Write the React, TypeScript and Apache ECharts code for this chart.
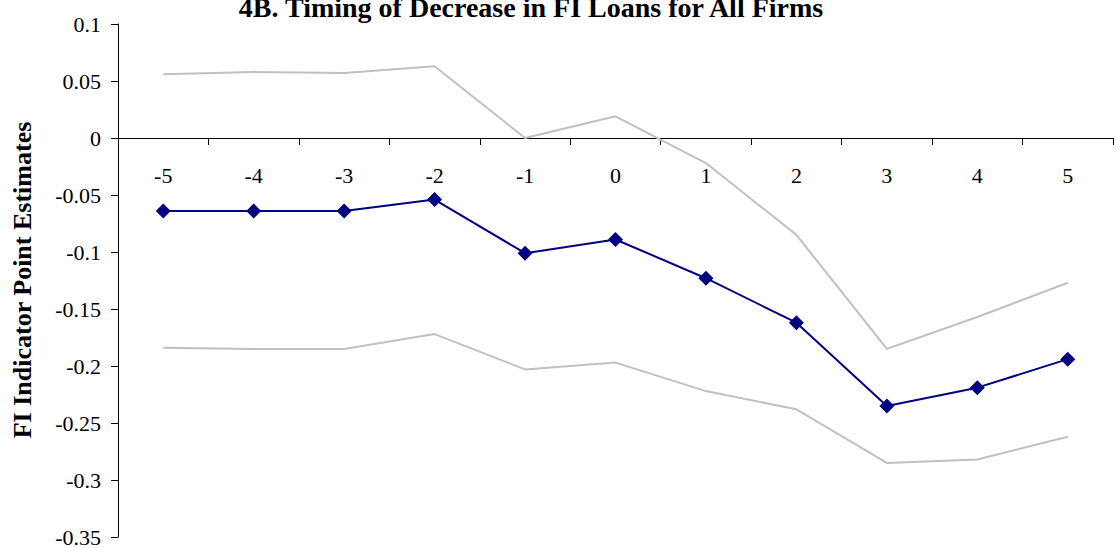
import React, { useEffect, useRef } from "react";
import * as echarts from "echarts";

const periods = ["-5", "-4", "-3", "-2", "-1", "0", "1", "2", "3", "4", "5"];
const pointEstimates = [-0.064, -0.064, -0.064, -0.054, -0.101, -0.089, -0.123, -0.162, -0.235, -0.219, -0.194];
const upperBound = [0.056, 0.058, 0.057, 0.063, 0.0, 0.019, -0.022, -0.085, -0.185, -0.157, -0.127];
const lowerBound = [-0.184, -0.185, -0.185, -0.172, -0.203, -0.197, -0.222, -0.238, -0.285, -0.282, -0.262];

const titleText = "4B. Timing of Decrease in FI Loans for All Firms";
const yAxisTitle = "FI Indicator Point Estimates";

const FAMILY = "'Liberation Serif', 'DejaVu Serif', serif";

// the value axis runs from -0.35 to 0.1 across the plot height (24..537);
// the category axis sits on the zero line, lifted up from the grid bottom
const Y_MIN = -0.35;
const Y_MAX = 0.1;
const PLOT_TOP = 24;
const PLOT_BOTTOM = 537;
const zeroOffset = -((0 - Y_MIN) / (Y_MAX - Y_MIN)) * (PLOT_BOTTOM - PLOT_TOP);

export default function App() {
  const ref = useRef<HTMLDivElement>(null);

  useEffect(() => {
    if (!ref.current) return;
    const chart = echarts.init(ref.current, undefined, { renderer: "svg" });
    chart.setOption({
      animation: false,
      backgroundColor: "#ffffff",
      textStyle: { fontFamily: FAMILY },
      grid: {
        left: 118,
        right: 4,
        top: PLOT_TOP,
        bottom: 548 - PLOT_BOTTOM,
        containLabel: false,
        outerBoundsMode: "none",
      },
      graphic: [
        {
          type: "text",
          x: 531,
          y: 21,
          style: {
            text: titleText,
            font: `bold 28px ${FAMILY}`,
            fill: "#000",
            align: "center",
            verticalAlign: "bottom",
          },
        },
        {
          type: "text",
          x: 22,
          y: 280,
          rotation: Math.PI / 2,
          style: {
            text: yAxisTitle,
            font: `bold 26px ${FAMILY}`,
            fill: "#000",
            align: "center",
            verticalAlign: "middle",
          },
        },
      ],
      xAxis: {
        type: "category",
        data: periods,
        boundaryGap: true,
        position: "bottom",
        offset: zeroOffset,
        axisLine: { onZero: false, lineStyle: { color: "#000", width: 1 } },
        axisTick: { show: true, length: 7, inside: false, lineStyle: { color: "#000" } },
        axisLabel: { color: "#000", fontSize: 22, fontFamily: FAMILY, margin: 26 },
        splitLine: { show: false },
      },
      yAxis: {
        type: "value",
        min: Y_MIN,
        max: Y_MAX,
        interval: 0.05,
        axisLine: { show: true, lineStyle: { color: "#000", width: 1 } },
        axisTick: { show: true, length: 7, inside: false, lineStyle: { color: "#000" } },
        axisLabel: {
          color: "#000",
          fontSize: 22,
          fontFamily: FAMILY,
          margin: 17,
        },
        splitLine: { show: false },
      },
      series: [
        {
          name: "Upper",
          type: "line",
          data: upperBound,
          symbol: "none",
          lineStyle: { color: "#c0c0c0", width: 2 },
          z: 2,
        },
        {
          name: "Lower",
          type: "line",
          data: lowerBound,
          symbol: "none",
          lineStyle: { color: "#c0c0c0", width: 2 },
          z: 2,
        },
        {
          name: "Estimate",
          type: "line",
          data: pointEstimates,
          symbol: "diamond",
          symbolSize: 15,
          itemStyle: { color: "#000080" },
          lineStyle: { color: "#000080", width: 2 },
          z: 3,
        },
      ],
    });
    return () => chart.dispose();
  }, []);

  return (
    <div
      ref={ref}
      style={{ position: "fixed", left: 0, top: 0, width: 1117, height: 548 }}
    />
  );
}
